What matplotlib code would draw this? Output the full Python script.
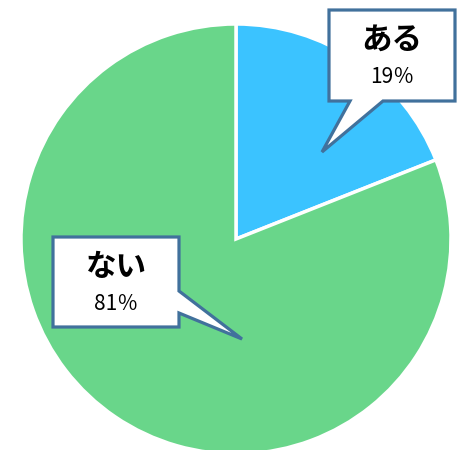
import matplotlib.pyplot as plt
from matplotlib.patches import Polygon

plt.rcParams['font.family'] = ['Noto Sans CJK JP', 'DejaVu Sans']

labels = ["ある", "ない"]
values = [19, 81]
colors = ["#3BC3FF", "#69D68A"]
pct_labels = ["19％", "81％"]

W, H = 462, 450
fig = plt.figure(figsize=(W / 100, H / 100), dpi=100)
ax = fig.add_axes([0, 0, 1, 1])

# pie in pixel-like coords (y measured from bottom)
cx, cy, r = 236, H - 239, 215
ax.pie(values, colors=colors, startangle=90, counterclock=False,
       center=(cx, cy), radius=r, frame=True,
       wedgeprops=dict(edgecolor="white", linewidth=2.5))
ax.set_xlim(0, W)
ax.set_ylim(0, H)
ax.set_aspect("equal")
ax.axis("off")


def callout(box, tip, side, base, title, pct):
    x0, y0, x1, y1 = box  # pixel coords, top-left origin
    if side == "bottom":
        pts = [(x0, y0), (x1, y0), (x1, y1), (base[1], y1), tip, (base[0], y1), (x0, y1)]
    else:  # right
        pts = [(x0, y0), (x1, y0), (x1, base[0]), tip, (x1, base[1]), (x1, y1), (x0, y1)]
    pts = [(x, H - y) for x, y in pts]
    ax.add_patch(Polygon(pts, closed=True, facecolor="white", edgecolor="#41719C",
                         linewidth=2.3, joinstyle="miter", zorder=5))
    mx = (x0 + x1) / 2
    ax.text(mx, H - (y0 + 30), title, ha="center", va="center", fontsize=22,
            fontweight="bold", color="black", zorder=6)
    ax.text(mx, H - (y0 + 67), pct, ha="center", va="center", fontsize=15,
            color="black", zorder=6)


callout((329, 10, 455, 101), (322, 152), "bottom", (350, 383), labels[0], pct_labels[0])
callout((53, 237, 179, 327), (242, 339), "right", (291, 313), labels[1], pct_labels[1])

fig.savefig("out.png", dpi=100)
